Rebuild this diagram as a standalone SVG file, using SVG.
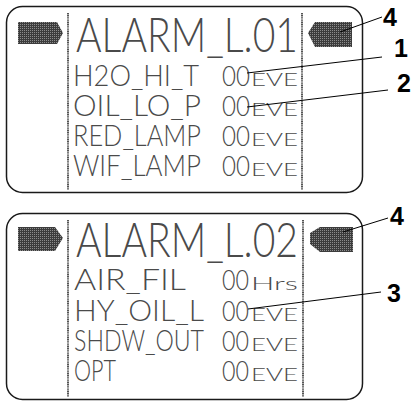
<svg xmlns="http://www.w3.org/2000/svg" width="413" height="401" viewBox="0 0 413 401">
  <defs>
    <pattern id="dots" width="2" height="2" patternUnits="userSpaceOnUse">
      <rect width="2" height="2" fill="#3c3c3c"/>
      <rect width="1" height="1" fill="#8c8c8c"/>
    </pattern>
    <style>
      .frame { fill: #ffffff; stroke: #1a1a1a; stroke-width: 1.5; }
      .sep { stroke: #555555; stroke-width: 2; stroke-dasharray: 1.2 0.6; }
      .cursor { fill: url(#dots); }
      .lcd { font-family: "Lato", "Liberation Sans", sans-serif; font-weight: 300; fill: #4a4a4a; }
      .title { font-size: 47px; }
      .row { font-size: 29px; }
      .val { font-size: 28px; }
      .unit { font-size: 17px; }
      .callout { font-family: "Liberation Sans", Arial, sans-serif; font-weight: bold; font-size: 25px; fill: #000000; }
      .leader { stroke: #000000; stroke-width: 1; fill: none; }
    </style>
  </defs>

  <g id="screen-1">
    <rect class="frame" x="6.5" y="6.5" width="356" height="186" rx="16"/>
    <line class="sep" x1="68" y1="13" x2="68" y2="190"/>
    <line class="sep" x1="302" y1="13" x2="302" y2="190"/>
    <polygon class="cursor" points="18,22 57,22 63,33 57,44 18,44"/>
    <polygon class="cursor" points="352,22 315,22 308,33 315,47 352,47"/>
    <text class="lcd title" x="76" y="52" textLength="222" lengthAdjust="spacingAndGlyphs">ALARM_L.01</text>
    <text class="lcd row" x="73" y="86" textLength="126" lengthAdjust="spacingAndGlyphs">H2O_HI_T</text>
    <text class="lcd row" x="73" y="116" textLength="128" lengthAdjust="spacingAndGlyphs">OIL_LO_P</text>
    <text class="lcd row" x="73" y="146" textLength="128" lengthAdjust="spacingAndGlyphs">RED_LAMP</text>
    <text class="lcd row" x="73" y="176" textLength="128" lengthAdjust="spacingAndGlyphs">WIF_LAMP</text>
    <text class="lcd" y="86"><tspan class="val" x="222" textLength="28" lengthAdjust="spacingAndGlyphs">00</tspan><tspan class="unit" x="251" textLength="47" lengthAdjust="spacingAndGlyphs">EVE</tspan></text>
    <text class="lcd" y="116"><tspan class="val" x="222" textLength="28" lengthAdjust="spacingAndGlyphs">00</tspan><tspan class="unit" x="251" textLength="47" lengthAdjust="spacingAndGlyphs">EVE</tspan></text>
    <text class="lcd" y="146"><tspan class="val" x="222" textLength="28" lengthAdjust="spacingAndGlyphs">00</tspan><tspan class="unit" x="251" textLength="47" lengthAdjust="spacingAndGlyphs">EVE</tspan></text>
    <text class="lcd" y="176"><tspan class="val" x="222" textLength="28" lengthAdjust="spacingAndGlyphs">00</tspan><tspan class="unit" x="251" textLength="47" lengthAdjust="spacingAndGlyphs">EVE</tspan></text>
  </g>

  <g id="screen-2">
    <rect class="frame" x="6.5" y="213.5" width="356" height="186" rx="16"/>
    <line class="sep" x1="68" y1="220" x2="68" y2="397"/>
    <line class="sep" x1="303" y1="220" x2="303" y2="397"/>
    <polygon class="cursor" points="18,227 55,227 63,238 55,251 18,251"/>
    <polygon class="cursor" points="353,227 320,227 310,233 310,244 320,252 353,252"/>
    <text class="lcd title" x="76" y="257" textLength="222" lengthAdjust="spacingAndGlyphs">ALARM_L.02</text>
    <text class="lcd row" x="74" y="290" textLength="112" lengthAdjust="spacingAndGlyphs">AIR_FIL</text>
    <text class="lcd row" x="74" y="321" textLength="130" lengthAdjust="spacingAndGlyphs">HY_OIL_L</text>
    <text class="lcd row" x="74" y="351" textLength="130" lengthAdjust="spacingAndGlyphs">SHDW_OUT</text>
    <text class="lcd row" x="74" y="381" textLength="42" lengthAdjust="spacingAndGlyphs">OPT</text>
    <text class="lcd" y="290"><tspan class="val" x="222" textLength="27" lengthAdjust="spacingAndGlyphs">00</tspan><tspan class="unit" x="251" textLength="47" lengthAdjust="spacingAndGlyphs">Hrs</tspan></text>
    <text class="lcd" y="321"><tspan class="val" x="222" textLength="27" lengthAdjust="spacingAndGlyphs">00</tspan><tspan class="unit" x="251" textLength="47" lengthAdjust="spacingAndGlyphs">EVE</tspan></text>
    <text class="lcd" y="351"><tspan class="val" x="222" textLength="27" lengthAdjust="spacingAndGlyphs">00</tspan><tspan class="unit" x="251" textLength="47" lengthAdjust="spacingAndGlyphs">EVE</tspan></text>
    <text class="lcd" y="381"><tspan class="val" x="222" textLength="27" lengthAdjust="spacingAndGlyphs">00</tspan><tspan class="unit" x="251" textLength="47" lengthAdjust="spacingAndGlyphs">EVE</tspan></text>
  </g>

  <g id="connectors">
    <line class="leader" x1="382" y1="17" x2="340" y2="32"/>
    <line class="leader" x1="382" y1="57" x2="247" y2="73"/>
    <line class="leader" x1="388" y1="90" x2="247" y2="107"/>
    <line class="leader" x1="388" y1="218" x2="343" y2="232"/>
    <line class="leader" x1="381" y1="292" x2="248" y2="309"/>
  </g>

  <g id="callout-4a"><text class="callout" x="383" y="26">4</text></g>
  <g id="callout-1"><text class="callout" x="394" y="57">1</text></g>
  <g id="callout-2"><text class="callout" x="397" y="92">2</text></g>
  <g id="callout-4b"><text class="callout" x="390" y="225">4</text></g>
  <g id="callout-3"><text class="callout" x="387" y="302">3</text></g>
</svg>
